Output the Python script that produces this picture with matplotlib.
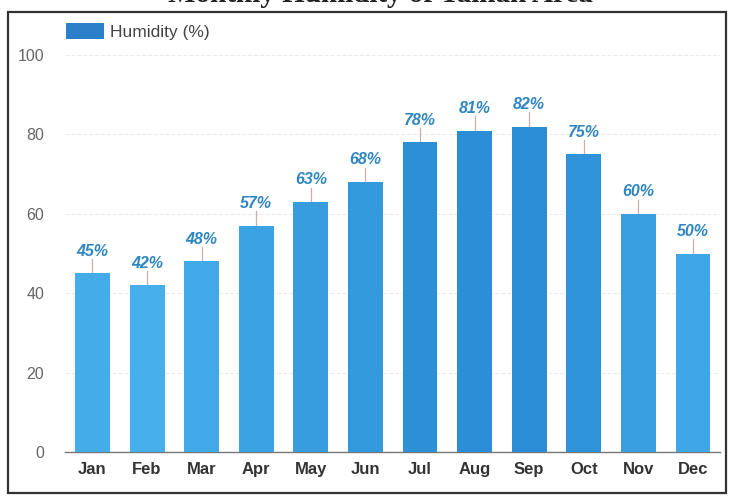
import matplotlib
matplotlib.use("Agg")
import matplotlib.pyplot as plt
from matplotlib.patches import Patch, Rectangle
from matplotlib.colors import LinearSegmentedColormap, Normalize

months = ["Jan", "Feb", "Mar", "Apr", "May", "Jun",
          "Jul", "Aug", "Sep", "Oct", "Nov", "Dec"]
humidity = [45, 42, 48, 57, 63, 68, 78, 81, 82, 75, 60, 50]
yticks = [0, 20, 40, 60, 80, 100]
title = "Monthly Humidity of Tainan Area"
series_name = "Humidity (%)"

plt.rcParams["font.family"] = ["Liberation Sans", "DejaVu Sans"]

fig = plt.figure(figsize=(7.32, 5.01), dpi=100)
fig.patch.set_facecolor("white")
ax = fig.add_axes([0.089, 0.098, 0.895, 0.792])

# bar shade deepens with humidity
cmap = LinearSegmentedColormap.from_list("hum", ["#45AEEB", "#2A8DD5"])
norm = Normalize(vmin=min(humidity), vmax=max(humidity))
colors = [cmap(norm(v)) for v in humidity]

x = list(range(len(months)))
ax.bar(x, humidity, width=0.64, color=colors, zorder=3)

for xi, v in zip(x, humidity):
    ax.plot([xi, xi], [v, v + 3.6], color="#c9b0b0", lw=0.9, zorder=2)
    ax.text(xi, v + 3.7, f"{v}%", ha="center", va="bottom",
            fontsize=11.5, fontweight="bold", fontstyle="italic",
            color="#2E86C1", zorder=4)

ax.set_xlim(-0.5, len(months) - 0.5)
ax.set_ylim(0, 100)
ax.set_yticks(yticks)
ax.set_xticks(x)
ax.set_xticklabels(months, fontsize=12, fontweight="bold", color="#333333")
ax.tick_params(axis="y", labelsize=11.5, labelcolor="#666666", length=0, pad=15)
ax.tick_params(axis="x", length=0, pad=7)
ax.grid(axis="y", color="#ebebeb", lw=0.8, ls="--", zorder=0)
for side in ["top", "right", "left"]:
    ax.spines[side].set_visible(False)
ax.spines["bottom"].set_color("#777777")
ax.spines["bottom"].set_linewidth(1.0)

legend_color = "#2B80C9"
ax.legend(handles=[Patch(facecolor=legend_color, label=series_name)],
          loc="upper left", bbox_to_anchor=(0.080, 0.968),
          bbox_transform=fig.transFigure, frameon=False,
          fontsize=12.5, handlelength=2.2, handleheight=1.0,
          labelcolor="#444444", borderaxespad=0, handletextpad=0.35)

# outer frame
fig.add_artist(Rectangle((0.011, 0.016), 0.981, 0.961,
                         transform=fig.transFigure, fill=False,
                         edgecolor="#333333", lw=1.6))

fig.text(0.52, 0.997, title, ha="center", va="baseline",
         fontsize=21, fontweight="bold", family="Liberation Serif",
         color="#222222")

fig.savefig("out.png", dpi=100)
